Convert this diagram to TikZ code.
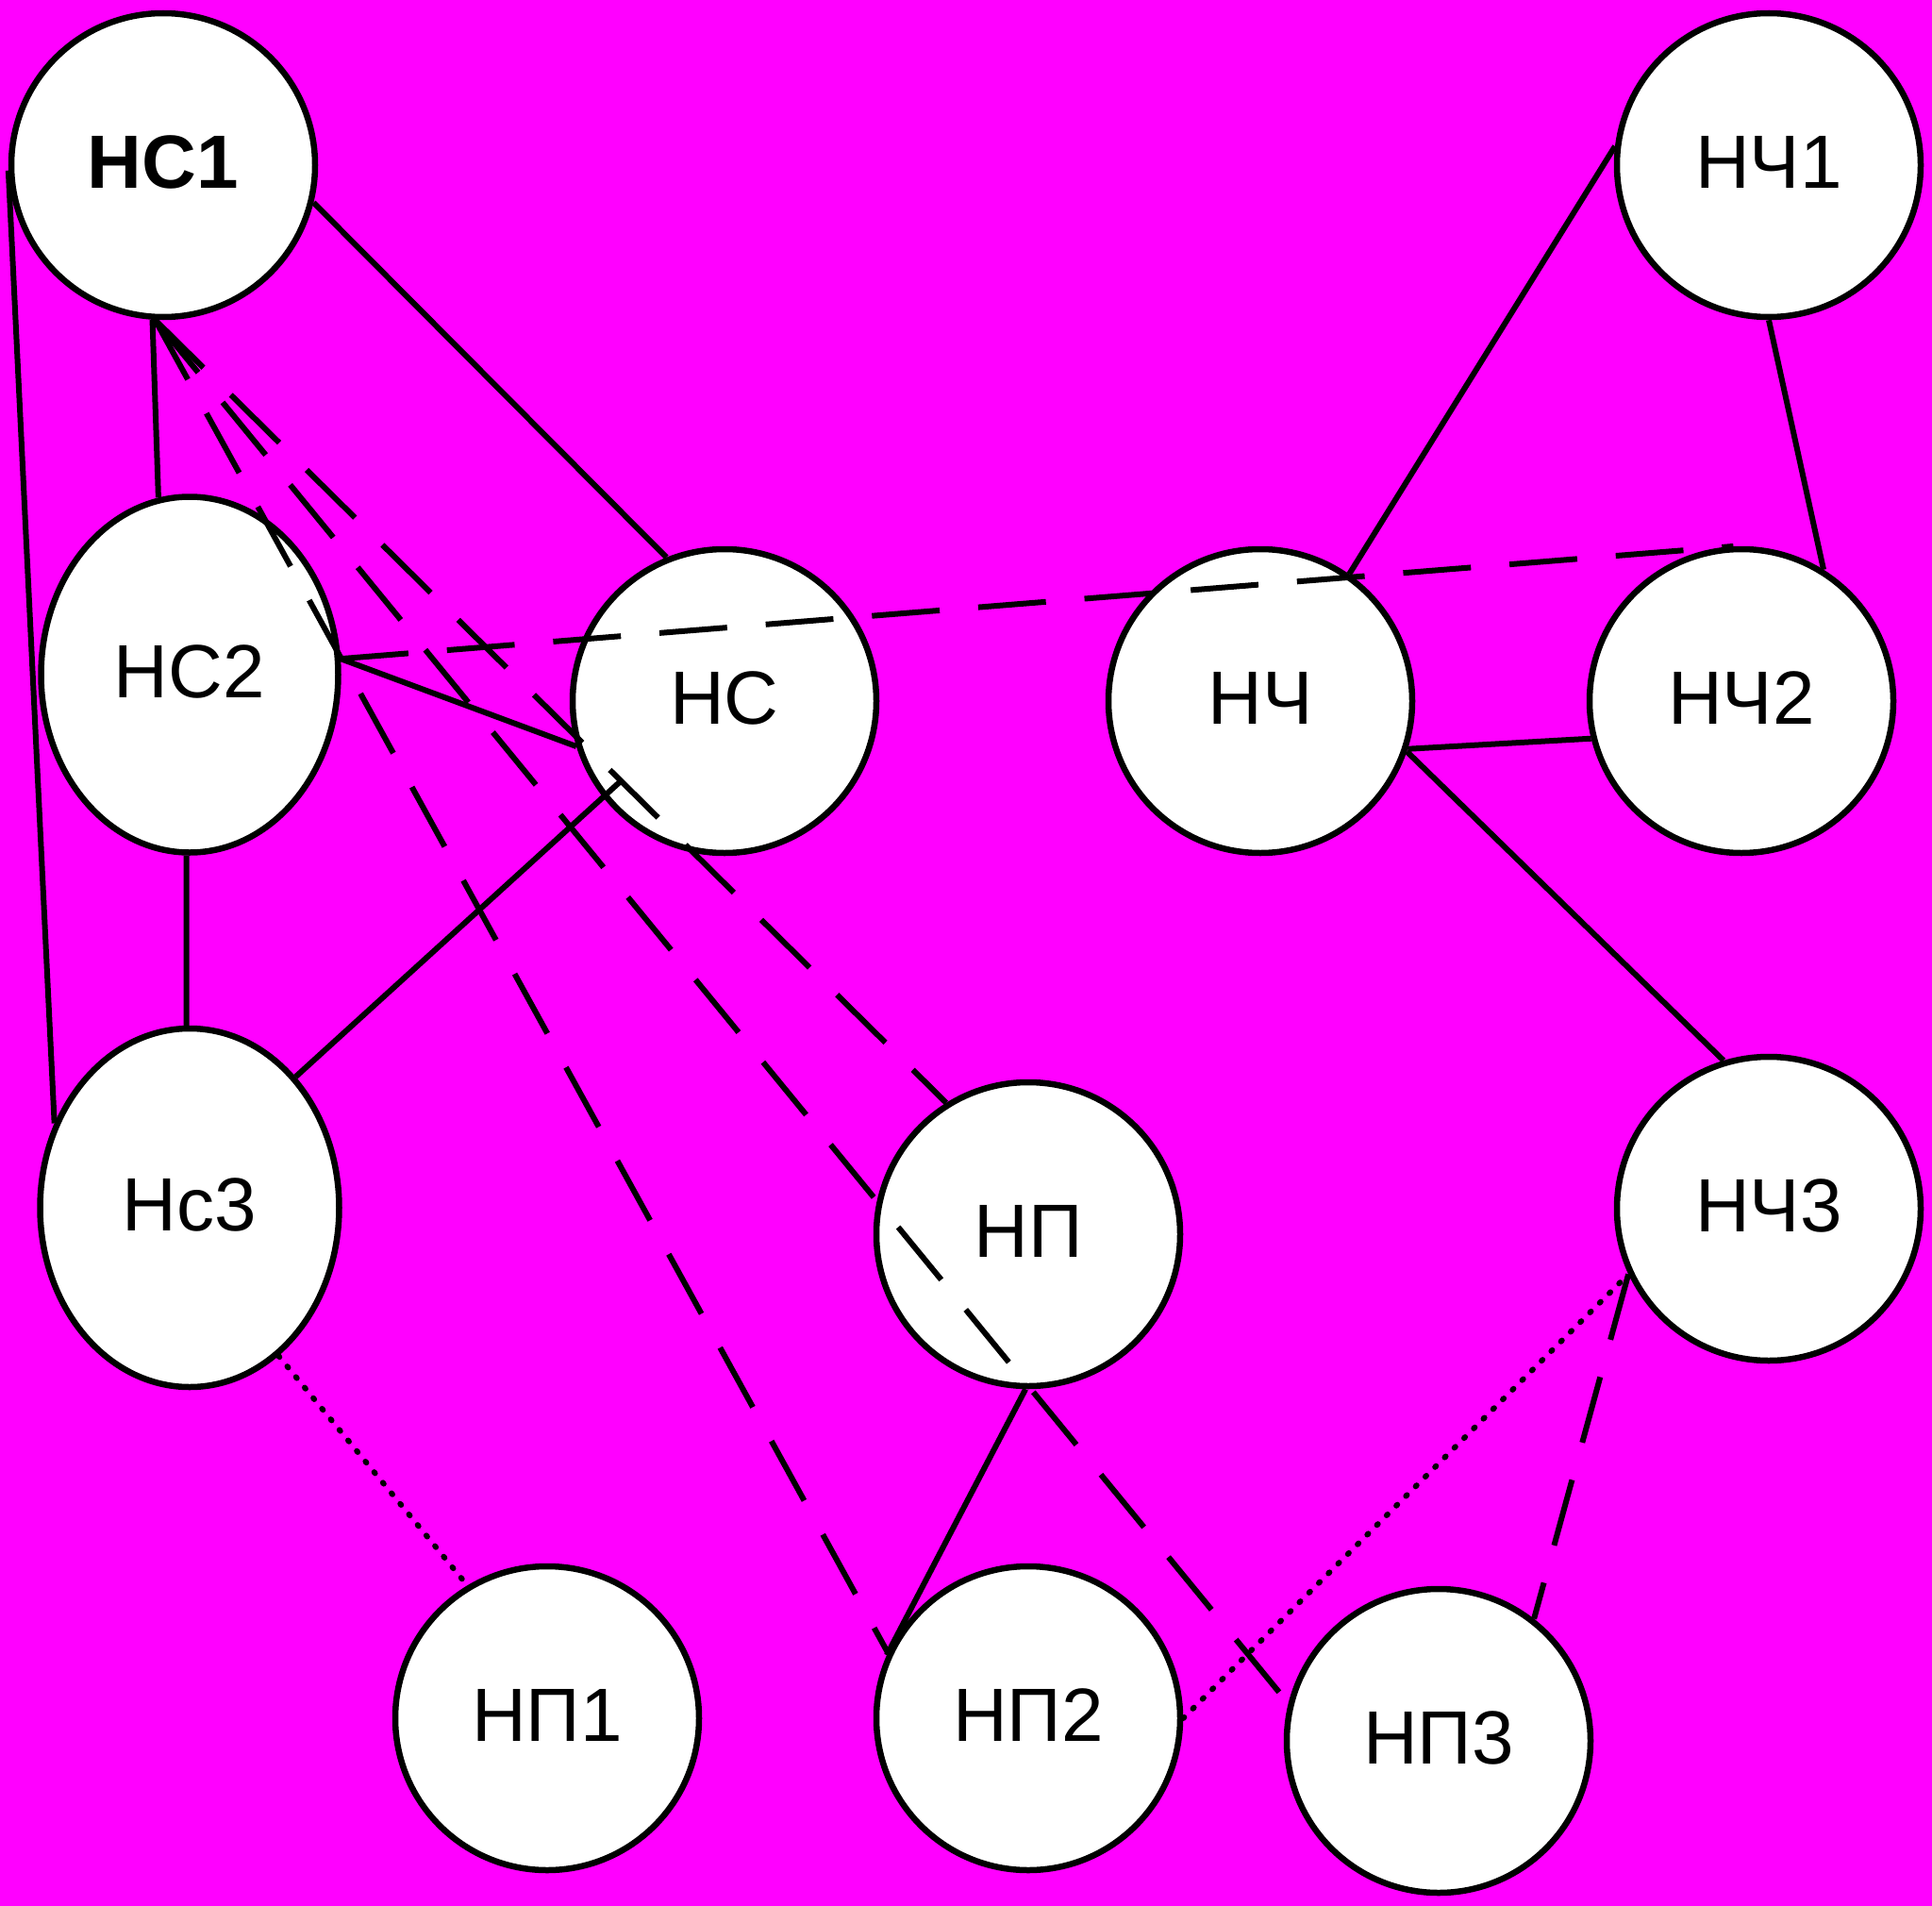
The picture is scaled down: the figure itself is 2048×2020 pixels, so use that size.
\documentclass[tikz,border=0pt]{standalone}
\usepackage{fontspec}
\setmainfont{Liberation Sans}
\usetikzlibrary{shapes.geometric,calc}
\definecolor{bgmag}{RGB}{255,0,255}
\begin{document}
\begin{tikzpicture}[x=1pt,y=-1pt,
  nd/.style={circle,draw=black,fill=white,line width=6.5pt,minimum size=322pt,inner sep=0pt,
    text height=57pt,text depth=8pt,font=\fontsize{80}{96}\selectfont},
  ell/.style={ellipse,draw=black,fill=white,line width=6.5pt,inner sep=0pt,
    text height=57pt,text depth=8pt,font=\fontsize{80}{96}\selectfont},
  conn/.style={line width=6pt,black},
  dsh/.style={conn,dash pattern=on 72pt off 41pt},
  dotline/.style={conn,line cap=round,dash pattern=on 1.5pt off 13pt}]
\useasboundingbox (0,0) rectangle (2048,2020);
\fill[bgmag] (0,0) rectangle (2048,2020);
% nodes
\node[nd] (NC1) at (173,175) {\textbf{НС1}};
\node[ell,minimum width=315pt,minimum height=377pt] (NC2) at (201,715) {НС2};
\node[nd] (NC) at (768,743) {НС};
\node[ell,minimum width=317pt,minimum height=380pt] (Nc3) at (201,1280) {Нс3};
\node[nd] (NCh1) at (1875,175) {НЧ1};
\node[nd] (NCh) at (1336,743) {НЧ};
\node[nd] (NCh2) at (1846,743) {НЧ2};
\node[nd] (NCh3) at (1875,1281) {НЧ3};
\node[nd] (NP) at (1090,1308) {НП};
\node[nd] (NP1) at (580,1821) {НП1};
\node[nd] (NP2) at (1090,1821) {НП2};
\node[nd] (NP3) at (1525,1845) {НП3};
% solid connectors
\draw[conn] (NC1.-14) -- (NC.112);
\draw[conn] (NC1.182) -- (Nc3.148);
\draw[conn] (NC1.-94) -- (NC2.100);
\draw[conn] (NC2.6) -- (NC.197);
\draw[conn] (NC2.-91.5) -- (Nc3.91.5);
\draw[conn] (Nc3.51) -- ($(NC.center)+(-108,83)$);
\draw[conn] (NCh1.173) -- (NCh.55);
\draw[conn] (NCh1.-90) -- (NCh2.58);
\draw[conn] (NCh.-18) -- (NCh2.-166);
\draw[conn] (NCh.-19) -- (NCh3.107);
\draw[conn] (NP.-91) -- (NP2.156);
% dotted connectors
\draw[dotline] (Nc3.-59) -- (NP1.121);
\draw[dotline] (NP2.0) -- (NCh3.-155);
% dashed connectors
\draw[dsh] (NCh3.-155) -- (NP3.52);
\draw[dsh] (NC2.6) -- (NCh2.93);
\draw[dsh] (NC1.-93) -- (NP2.155);
\draw[dsh] (NC1.-93) -- (NP3.166);
\draw[dsh] (NC1.-93) -- (NP.122);
\end{tikzpicture}
\end{document}
